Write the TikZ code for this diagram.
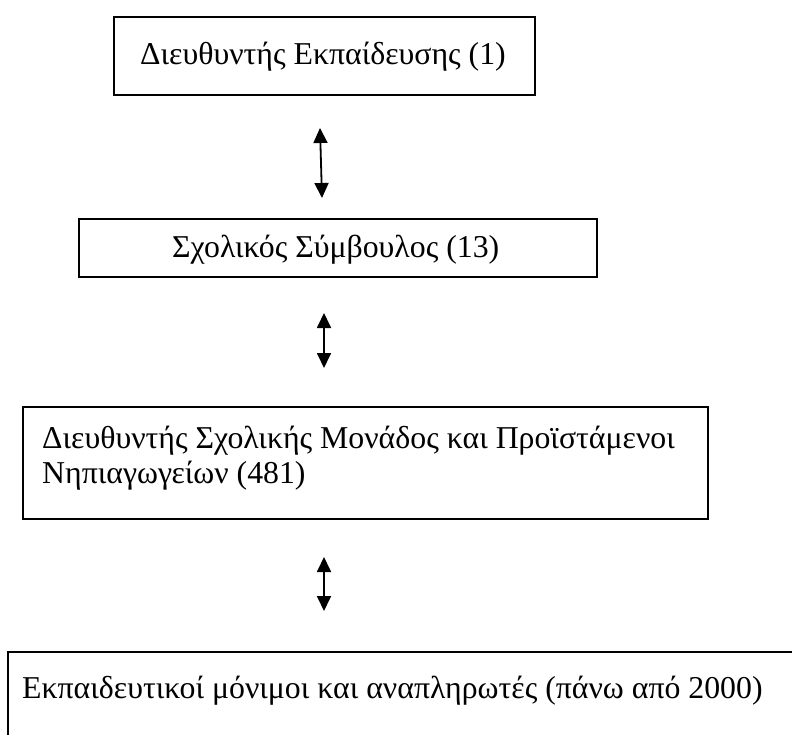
\documentclass[tikz,border=0pt]{standalone}
\usepackage{fontspec}
\setmainfont{Liberation Serif}
\usetikzlibrary{arrows.meta}
\begin{document}
\begin{tikzpicture}[x=1pt, y=-1pt, >={Triangle[width=14pt, length=15pt]},
    box/.style={draw, line width=1.6pt, inner sep=0pt, anchor=north west},
    txt/.style={anchor=base west, inner sep=0pt, align=left, font=\fontsize{31.8}{35}\selectfont},
    link/.style={<->, line width=1.8pt}]
    \useasboundingbox (0, 0) rectangle (792, 735);
    \clip (0, 0) rectangle (792, 735);

    \node[box, minimum width=421pt, minimum height=78pt] (dirbox) at (113, 16) {};
    \node[box, minimum width=518pt, minimum height=58pt] (advbox) at (78, 218) {};
    \node[box, minimum width=685pt, minimum height=112pt] (headbox) at (22, 406) {};
    \node[box, minimum width=800pt, minimum height=110pt] (teachbox) at (7, 651) {};

    \node[txt] (dirtxt) at (140, 65) {Διευθυντής Εκπαίδευσης (1)};
    \node[txt] (advtxt) at (172, 258) {Σχολικός Σύμβουλος (13)};
    \node[txt] (headtxt) at (42, 483) {Διευθυντής Σχολικής Μονάδος και Προϊστάμενοι\\Νηπιαγωγείων (481)};
    \node[txt] (teachtxt) at (22, 698) {Εκπαιδευτικοί μόνιμοι και αναπληρωτές (πάνω από 2000)};

    \coordinate (up1) at (320, 128);
    \coordinate (dn1) at (322, 198);
    \coordinate (up2) at (324, 313);
    \coordinate (dn2) at (324, 368);
    \coordinate (up3) at (324, 557);
    \coordinate (dn3) at (324, 611);
    \draw[link] (up1) -- (dn1);
    \draw[link] (up2) -- (dn2);
    \draw[link] (up3) -- (dn3);
  \end{tikzpicture}
\end{document}
